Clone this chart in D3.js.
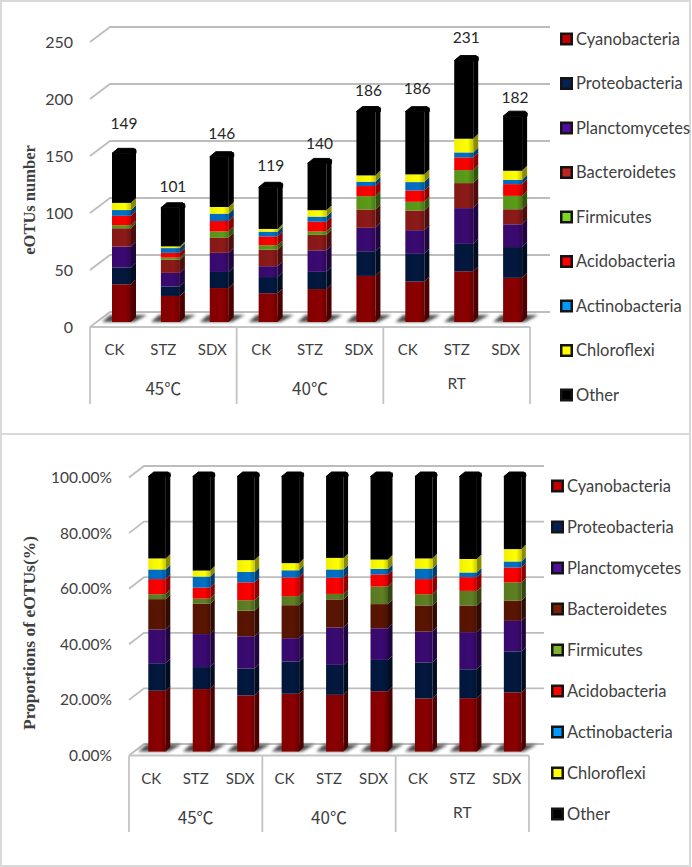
<!DOCTYPE html>
<html>

<head>
  <title>eOTUs charts</title>
  <meta charset="UTF-8">
  <script src="https://d3js.org/d3.v7.min.js"></script>
  <style type="text/css">
    html, body { margin: 0; padding: 0; background: #fff; }
    svg { display: block; }
    text { font-family: Lato, "Noto Sans CJK SC", sans-serif; }
  </style>
</head>

<body>
  <script type="text/javascript">
    // Chart data
    var phyla = ['Cyanobacteria', 'Proteobacteria', 'Planctomycetes', 'Bacteroidetes', 'Firmicutes',
      'Acidobacteria', 'Actinobacteria', 'Chloroflexi', 'Other'];
    var treatments = ['CK', 'STZ', 'SDX', 'CK', 'STZ', 'SDX', 'CK', 'STZ', 'SDX'];
    var groups = ['45℃', '40℃', 'RT'];

    var countTotals = [149, 101, 146, 119, 140, 186, 186, 231, 182];
    var countTicks = [0, 50, 100, 150, 200, 250];
    var percentTicks = [0, 20, 40, 60, 80, 100];

    var countCyanobacteria = [33.3, 23, 30, 25.4, 29.1, 40.7, 35.7, 44.8, 39];
    var countProteobacteria = [14.9, 8.4, 14.2, 14.3, 15.2, 21.8, 24.5, 24.2, 27.2];
    var countPlanctomycetes = [18.5, 12, 16.9, 9.6, 19, 20.7, 20.9, 31.6, 20.1];
    var countBacteroidetes = [16.1, 11.7, 13.6, 14.6, 13.7, 16.2, 17.4, 22.1, 13.3];
    var countFirmicutes = [2.7, 1.8, 5.3, 3.9, 3, 11.8, 7.7, 11.5, 11.8];
    var countAcidobacteria = [8.3, 4.2, 9.2, 7.8, 8.6, 8.9, 10, 11.2, 10.4];
    var countActinobacteria = [5.1, 4.2, 6.5, 4.2, 4.5, 3.8, 7.4, 4.4, 3.8];
    var countChloroflexi = [6.3, 1.5, 5.9, 2.4, 5.7, 5.6, 6.8, 12.1, 8];
    var countOther = [43.8, 34.1, 44.4, 36.8, 41.3, 56.4, 55.4, 69, 48.2];

    var pctCyanobacteria = [22.1, 22.7, 20.4, 21, 20.6, 21.9, 19.3, 19.4, 21.5];
    var pctProteobacteria = [10, 8, 9.8, 11.7, 10.9, 11.4, 13.1, 10.5, 14.9];
    var pctPlanctomycetes = [12.3, 12, 11.7, 8.5, 13.6, 11.5, 11.2, 13.5, 11.1];
    var pctBacteroidetes = [11, 11, 9.3, 12, 10.2, 8.8, 9.5, 9.7, 7.3];
    var pctFirmicutes = [1.8, 1.9, 3.8, 3.3, 2, 6.4, 4.1, 5.3, 6.7];
    var pctAcidobacteria = [5.5, 4, 6.5, 6.8, 5.9, 4.4, 5.5, 5, 5.4];
    var pctActinobacteria = [3.5, 4, 3.8, 2.6, 3, 2, 3.8, 1.7, 2.2];
    var pctChloroflexi = [4, 2.2, 4.3, 2.6, 4.2, 3.4, 3.7, 4.9, 4.5];
    var pctOther = [29.8, 34.2, 30.4, 31.5, 29.6, 30.2, 29.8, 30, 26.4];

    var topColors = ['#8b0000', '#03183f', '#3a0a72', '#8c1a18', '#5b9c18', '#fe0000', '#0070c6', '#ffff00', '#000000'];
    var bottomColors = ['#8b0000', '#03183f', '#3a0a72', '#5a1502', '#5e8022', '#fe0000', '#0070c6', '#ffff00', '#000000'];

    var countSeries = [countCyanobacteria, countProteobacteria, countPlanctomycetes, countBacteroidetes,
      countFirmicutes, countAcidobacteria, countActinobacteria, countChloroflexi, countOther];
    var pctSeries = [pctCyanobacteria, pctProteobacteria, pctPlanctomycetes, pctBacteroidetes,
      pctFirmicutes, pctAcidobacteria, pctActinobacteria, pctChloroflexi, pctOther];

    var svg = d3.select('body').append('svg')
      .attr('width', 692)
      .attr('height', 867);

    var defs = svg.append('defs');
    defs.append('filter').attr('id', 'blur')
      .attr('x', '-30%').attr('y', '-50%').attr('width', '160%').attr('height', '200%')
      .append('feGaussianBlur').attr('stdDeviation', 1.4);

    // Slight darkening towards the right edge of a bar's front face
    var sheen = defs.append('linearGradient').attr('id', 'sheen');
    sheen.append('stop').attr('offset', '0%').attr('stop-color', '#000').attr('stop-opacity', 0.06);
    sheen.append('stop').attr('offset', '70%').attr('stop-color', '#000').attr('stop-opacity', 0);
    sheen.append('stop').attr('offset', '100%').attr('stop-color', '#000').attr('stop-opacity', 0.22);

    // Panel frames
    svg.append('rect').attr('x', 1).attr('y', 1).attr('width', 689).attr('height', 433)
      .attr('fill', 'none').attr('stroke', '#d9d9d9').attr('stroke-width', 2);
    svg.append('rect').attr('x', 1).attr('y', 434).attr('width', 689).attr('height', 432)
      .attr('fill', 'none').attr('stroke', '#d9d9d9').attr('stroke-width', 2);

    function drawChart(opt) {
      var g = svg.append('g');
      var rows = treatments.map(function (t, i) {
        var row = { i: i };
        opt.series.forEach(function (s, k) { row[k] = s[i]; });
        return row;
      });
      var stacked = d3.stack().keys(d3.range(phyla.length))(rows);

      var x = d3.scaleBand().domain(d3.range(treatments.length)).range([opt.left, opt.right]);
      var axisY = d3.scaleLinear().domain(opt.domain).range([opt.floor, opt.floor - opt.axisSpan]);
      var barY = d3.scaleLinear().domain(opt.domain).range([opt.base, opt.base - opt.barSpan]);

      // Back wall gridlines with the stubs going to the front
      g.selectAll('.grid').data(opt.ticks).enter().append('path')
        .attr('fill', 'none')
        .attr('stroke', '#bdbdbd')
        .attr('stroke-width', 1.8)
        .attr('d', function (d) {
          var y = axisY(d);
          return 'M' + opt.left + ',' + y + 'L' + (opt.left + opt.wallDx) + ',' + (y - opt.wallDy) +
            'H' + (opt.right + opt.wallDx);
        });

      // Floor front edge and category box
      g.append('line')
        .attr('x1', opt.left).attr('x2', opt.right)
        .attr('y1', opt.floor).attr('y2', opt.floor)
        .attr('stroke', '#c4c4c4')
        .attr('stroke-width', 2.2);

      var groupEdges = [0, 3, 6, 9].map(function (n) {
        return n < 9 ? x(n) : opt.right;
      });
      g.selectAll('.sep').data(groupEdges).enter().append('line')
        .attr('x1', function (d) { return d; })
        .attr('x2', function (d) { return d; })
        .attr('y1', opt.floor)
        .attr('y2', opt.boxBottom)
        .attr('stroke', '#c4c4c4')
        .attr('stroke-width', 1.8);

      // Shadows on the floor
      g.selectAll('.shadow').data(treatments).enter().append('path')
        .attr('fill', '#2e2e2e')
        .attr('opacity', 0.85)
        .attr('filter', 'url(#blur)')
        .attr('d', function (d, i) {
          var b = x(i) + opt.barOffset;
          return 'M' + (b - 10) + ',' + opt.base + 'L' + (b - 2) + ',' + (opt.base - 7) +
            'H' + (b + opt.barW + opt.depth + 11) + 'L' + (b + opt.barW + 3) + ',' + opt.base + 'Z';
        });

      // Stacked 3D bars: side face, then front face for each phylum
      var layers = g.selectAll('.layer').data(stacked).enter().append('g');

      layers.selectAll('.side').data(function (s) { return s.map(function (p) { return { p: p, k: s.key }; }); })
        .enter().append('path')
        .attr('fill', function (d) {
          return d3.color(opt.colors[d.k]).darker(1.7);
        })
        .attr('d', function (d) {
          var xr = x(d.p.data.i) + opt.barOffset + opt.barW;
          var y0 = barY(d.p[0]), y1 = barY(d.p[1]);
          return 'M' + xr + ',' + y0 + 'L' + (xr + opt.depth) + ',' + (y0 - opt.depth) +
            'V' + (y1 - opt.depth) + 'L' + xr + ',' + y1 + 'Z';
        });

      layers.selectAll('.front').data(function (s) { return s.map(function (p) { return { p: p, k: s.key }; }); })
        .enter().append('rect')
        .attr('fill', function (d) { return opt.colors[d.k]; })
        .attr('x', function (d) { return x(d.p.data.i) + opt.barOffset; })
        .attr('width', opt.barW)
        .attr('y', function (d) { return barY(d.p[1]); })
        .attr('height', function (d) { return barY(d.p[0]) - barY(d.p[1]); });

      g.selectAll('.sheen').data(stacked[stacked.length - 1]).enter().append('rect')
        .attr('fill', 'url(#sheen)')
        .attr('x', function (d) { return x(d.data.i) + opt.barOffset; })
        .attr('width', opt.barW)
        .attr('y', function (d) { return barY(d[1]); })
        .attr('height', function (d) { return opt.base - barY(d[1]); });

      // Black cap on top of each bar, chamfered at the left
      g.selectAll('.cap').data(stacked[stacked.length - 1]).enter().append('path')
        .attr('fill', '#000')
        .attr('stroke', '#000')
        .attr('stroke-linejoin', 'round')
        .attr('d', function (d) {
          var b = x(d.data.i) + opt.barOffset, y = barY(d[1]);
          return 'M' + b + ',' + y + 'L' + (b + opt.depth + 1) + ',' + (y - opt.depth) +
            'H' + (b + opt.barW + opt.depth - 2) + 'L' + (b + opt.barW + opt.depth) + ',' + (y - opt.depth + 2) +
            'V' + y + 'H' + b + 'Z';
        });

      // Y axis labels
      var yAxis = g.append('g')
        .attr('transform', 'translate(' + opt.left + ',0)')
        .call(d3.axisLeft(axisY).tickValues(opt.ticks).tickSize(0).tickPadding(opt.tickPad).tickFormat(opt.tickFormat));
      yAxis.select('.domain').remove();
      yAxis.selectAll('text').attr('font-size', opt.tickFont).attr('fill', '#404040');
      yAxis.attr('font-family', null);

      // Treatment labels and group labels
      var xAxis = g.append('g')
        .attr('transform', 'translate(0,' + opt.labelY + ')')
        .call(d3.axisBottom(x).tickSize(0).tickPadding(0).tickFormat(function (i) { return treatments[i]; }));
      xAxis.select('.domain').remove();
      xAxis.selectAll('text').attr('font-size', 15).attr('fill', '#404040').attr('dy', '0.35em');

      g.selectAll('.group').data(groups).enter().append('text')
        .attr('x', function (d, i) { return (groupEdges[i] + groupEdges[i + 1]) / 2; })
        .attr('y', function (d) { return d === 'RT' ? opt.groupY - 5 : opt.groupY; })
        .attr('dy', '0.35em')
        .attr('text-anchor', 'middle')
        .attr('fill', '#404040')
        .attr('font-size', function (d) { return d === 'RT' ? 15.5 : 17; })
        .style('font-family', function (d) { return d === 'RT' ? null : '"Noto Sans CJK SC"'; })
        .text(function (d) { return d; });

      // Totals above the bars
      if (opt.totals) {
        g.selectAll('.total').data(opt.totals).enter().append('text')
          .attr('x', function (d, i) { return x(i) + opt.barOffset + opt.barW / 2 + opt.depth / 2; })
          .attr('y', function (d) { return barY(d) - opt.totalGap; })
          .attr('dy', function (d, i) { return opt.totalNudge[i]; })
          .attr('text-anchor', 'middle')
          .attr('fill', '#262626')
          .attr('font-size', 15.5)
          .text(function (d) { return d; });
      }

      // Y title
      g.append('text')
        .attr('transform', 'translate(' + opt.titleX + ',' + opt.titleY + ') rotate(-90)')
        .attr('text-anchor', 'middle')
        .attr('fill', '#404040')
        .attr('font-weight', 'bold')
        .attr('font-size', opt.titleFont)
        .style('font-family', '"Liberation Serif", serif')
        .text(opt.title);

      // Legend
      var legend = g.selectAll('.legend').data(phyla).enter().append('g')
        .attr('transform', function (d, i) {
          return 'translate(' + opt.legendX + ',' + (opt.legendY + i * opt.legendStep) + ')';
        });
      legend.append('rect')
        .attr('x', 0).attr('y', -6.5).attr('width', 13).attr('height', 13)
        .attr('fill', '#141414');
      legend.append('rect')
        .attr('x', 2.5).attr('y', -4).attr('width', 8).attr('height', 8)
        .attr('fill', function (d, i) { return d3.color(opt.colors[i]).brighter(0.9); });
      legend.append('text')
        .attr('x', 16)
        .attr('dy', '0.35em')
        .attr('fill', '#404040')
        .attr('font-size', 16.5)
        .text(function (d) { return d; });
    }

    drawChart({
      series: countSeries, colors: topColors, totals: countTotals,
      totalGap: 16, totalNudge: [-8.5, 0.5, -1.5, -0.5, 1.5, 0.5, -1.5, -1.5, 3.5],
      domain: [0, 250], ticks: countTicks,
      tickFormat: function (d) { return d; },
      left: 90, right: 530, floor: 327, axisSpan: 285, base: 322, barSpan: 283,
      wallDx: 20, wallDy: 15, barOffset: 22, barW: 19, depth: 5,
      boxBottom: 404, labelY: 350, groupY: 389, tickPad: 17, tickFont: 16,
      title: 'eOTUs number', titleX: 35, titleY: 200, titleFont: 16.5,
      legendX: 560, legendY: 39, legendStep: 44.5
    });

    drawChart({
      series: pctSeries, colors: bottomColors,
      domain: [0, 100], ticks: percentTicks,
      tickFormat: function (d) { return d.toFixed(2) + '%'; },
      left: 129, right: 529, floor: 755.5, axisSpan: 278, base: 751.5, barSpan: 275,
      wallDx: 15, wallDy: 11.5, barOffset: 19.3, barW: 17.5, depth: 4.5,
      boxBottom: 832, labelY: 779, groupY: 818, tickPad: 17, tickFont: 15.5,
      title: 'Proportions of eOTUs(%)', titleX: 35, titleY: 633, titleFont: 17.5,
      legendX: 551, legendY: 486, legendStep: 41
    });
  </script>
</body>

</html>
